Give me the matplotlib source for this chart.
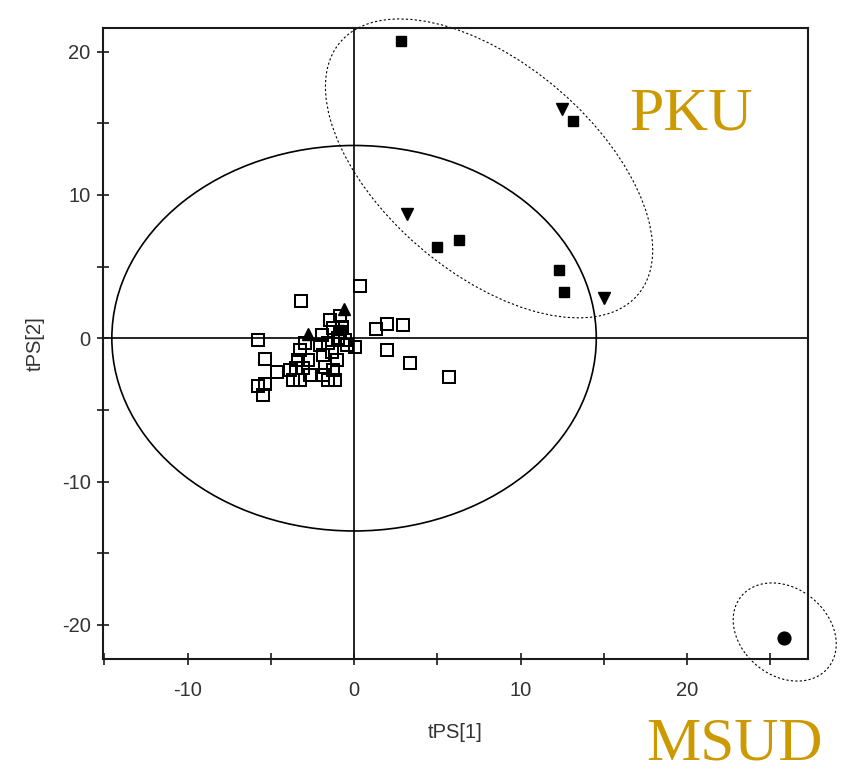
import matplotlib
matplotlib.use("Agg")
import matplotlib.pyplot as plt
from matplotlib.patches import Ellipse
from matplotlib.ticker import MultipleLocator, NullFormatter

# Score coordinates (tPS[1], tPS[2]) per group
control_x = [0.36, 1.32, 1.96, 2.93, 1.96, 3.35, 5.73, 0.04,
             -3.2, -5.8, -5.37, -4.6, -5.75, -5.37, -5.45,
             -1.44, -0.84,
             -1.94, -2.04, -1.54, -1.84, -1.34, -1.74, -1.24, -1.84, -1.14, -1.54,
             -1.04, -1.24, -0.84, -0.54, -0.44, -0.96, -0.75,
             -2.94, -3.25, -3.35, -2.75, -3.46, -2.66, -3.06, -3.86, -3.67, -3.25]
control_y = [3.65, 0.65, 1.02, 0.90, -0.84, -1.70, -2.70, -0.58,
             2.62, -0.12, -1.47, -2.33, -3.33, -3.21, -3.98,
             1.28, 1.56,
             0.23, -0.47, -0.35, -1.16, -0.93, -1.98, -2.21, -2.56, -2.91, -2.91,
             -1.51, 0.70, 0.46, -0.12, -0.47, 0.0, 0.81,
             -0.35, -0.82, -1.51, -1.51, -2.09, -2.56, -2.09, -2.21, -2.91, -2.91]

pku_sq_x = [2.82, 13.18, 4.97, 6.29, 12.3, 12.6, -0.9]
pku_sq_y = [20.77, 15.19, 6.35, 6.86, 4.74, 3.23, 0.55]

pku_tri_x = [12.52, 3.19, 15.0]
pku_tri_y = [15.98, 8.65, 2.83]

other_tri_x = [-0.6, -2.78]
other_tri_y = [2.07, 0.30]

msud_x = [25.84]
msud_y = [-20.89]

x_ticks = [-10, 0, 10, 20]
y_ticks = [-20, -10, 0, 10, 20]

fig = plt.figure(figsize=(8.41, 7.71), dpi=100)
ax = fig.add_axes([0.1225, 0.1457, 0.8383, 0.8184])
ax.set_xlim(-15.08, 27.27)
ax.set_ylim(-22.36, 21.67)

# Zero reference lines
ax.axhline(0, color="black", lw=1.2, zorder=1)
ax.axvline(0, color="black", lw=1.2, zorder=1)

# Hotelling T2 ellipse
ax.add_patch(Ellipse((0, 0), 29.1, 26.9, fill=False, ec="black", lw=1.2, zorder=2))

# Group outlines
ax.add_patch(Ellipse((8.11, 11.85), 25.22, 13.62, angle=-48.1, fill=False,
                     ec="black", lw=0.8, ls=(0, (2, 2)), clip_on=False, zorder=2))
ax.add_patch(Ellipse((25.87, -20.5), 7.34, 5.6, angle=-56.2, fill=False,
                     ec="black", lw=0.8, ls=(0, (2, 2)), clip_on=False, zorder=2))

ax.plot(control_x, control_y, ls="none", marker="s", ms=8.3, mfc="none",
        mec="black", mew=1.45, zorder=3)
ax.plot(other_tri_x, other_tri_y, ls="none", marker="^", ms=8.5, color="black", zorder=4)
ax.plot(pku_sq_x, pku_sq_y, ls="none", marker="s", ms=6.8, color="black", zorder=4)
ax.plot(pku_tri_x, pku_tri_y, ls="none", marker="v", ms=8.8, color="black", zorder=4)
ax.plot(msud_x, msud_y, ls="none", marker="o", ms=9.2, color="black", zorder=4)

ax.xaxis.set_minor_locator(MultipleLocator(5))
ax.yaxis.set_minor_locator(MultipleLocator(5))
ax.xaxis.set_minor_formatter(NullFormatter())
ax.yaxis.set_minor_formatter(NullFormatter())
ax.set_xticks(x_ticks)
ax.set_yticks(y_ticks)
ax.set_xticklabels([str(t) for t in x_ticks])
ax.set_yticklabels([str(t) for t in y_ticks])

for sp in ax.spines.values():
    sp.set_linewidth(1.5)
    sp.set_color("#1a1a1a")

ax.tick_params(which="both", direction="inout", length=8, width=1.2, colors="#1a1a1a",
               labelsize=14.5)
ax.tick_params(axis="x", which="both", pad=12)
ax.tick_params(axis="y", which="both", pad=5)
for lbl in ax.get_xticklabels() + ax.get_yticklabels():
    lbl.set_fontfamily("Liberation Sans")
    lbl.set_color("#333333")

ax.set_xlabel("tPS[1]", fontfamily="Liberation Sans", fontsize=14.5, color="#333333", labelpad=17)
ax.set_ylabel("tPS[2]", fontfamily="Liberation Sans", fontsize=14.5, color="#333333", labelpad=12)

gold = "#CC9900"
fig.text(629 / 841, 1 - 129 / 771, "PKU", fontfamily="Liberation Serif", fontsize=44.6,
         color=gold, ha="left", va="baseline")
fig.text(646 / 841, 1 - 759 / 771, "MSUD", fontfamily="Liberation Serif", fontsize=44,
         color=gold, ha="left", va="baseline")

fig.savefig("out.png", dpi=100)
